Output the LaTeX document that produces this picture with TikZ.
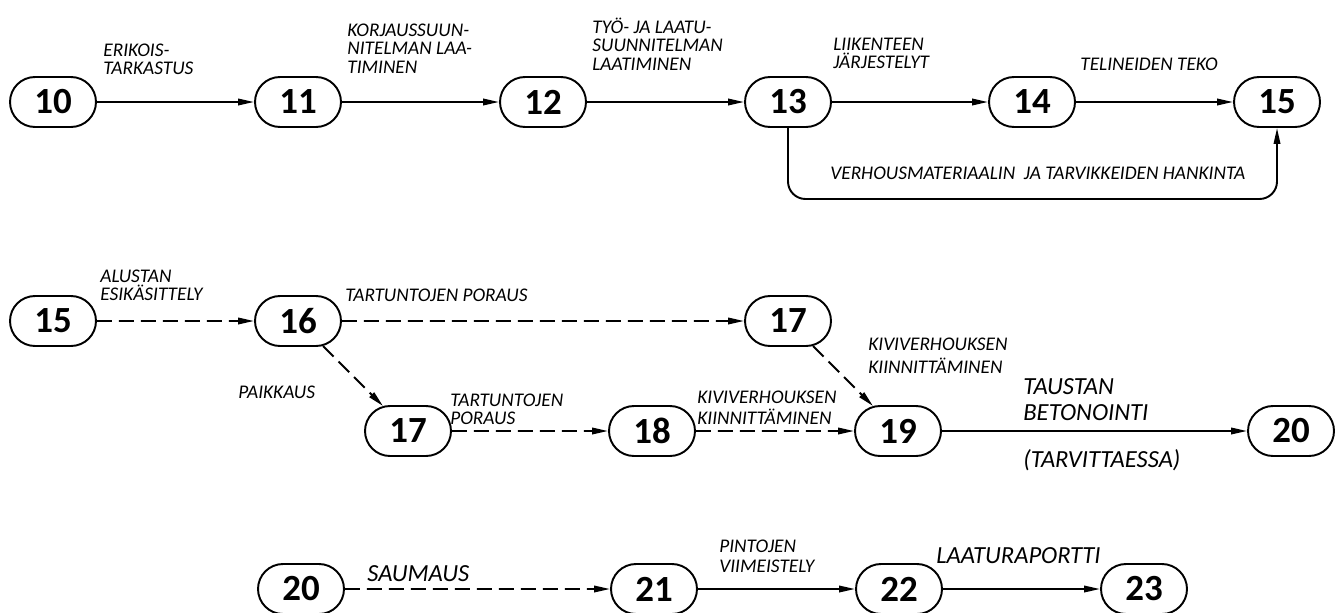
\documentclass[tikz,border=0pt]{standalone}
\usepackage{fontspec}
\setmainfont{Carlito}
\usetikzlibrary{arrows.meta, shapes.misc}

\begin{document}
\begin{tikzpicture}[x=0.02cm, y=-0.02cm,
        vaihe/.style={draw, rounded rectangle, line width=1.1pt, minimum width=1.72cm, minimum height=1cm, inner sep=0pt, font=\fontsize{21}{21}\selectfont\bfseries},
        lbl/.style={anchor=north west, inner sep=0pt, align=left, font=\fontsize{11}{10.3}\selectfont\itshape},
        isolbl/.style={lbl, font=\fontsize{14}{14.7}\selectfont\itshape},
        nuoli/.style={line width=1.1pt, -{Triangle[length=0.32cm, width=0.13cm]}},
        katko/.style={nuoli, dash pattern=on 0.3cm off 0.14cm}]
            \useasboundingbox (0, 0) rectangle (1338, 612);
            %\draw[lightgray] (0, 0) grid (1338, 612);
            % rivi 1
            \node[vaihe] (n10) at (53, 102) {10};
            \node[vaihe] (n11) at (298, 102) {11};
            \node[vaihe] (n12) at (543, 102) {12};
            \node[vaihe] (n13) at (788, 102) {13};
            \node[vaihe] (n14) at (1032, 102) {14};
            \node[vaihe] (n15a) at (1277, 102) {15};
            \draw[nuoli] (n10) -- (n11);
            \draw[nuoli] (n11) -- (n12);
            \draw[nuoli] (n12) -- (n13);
            \draw[nuoli] (n13) -- (n14);
            \draw[nuoli] (n14) -- (n15a);
            \coordinate (hankinta) at (1032, 199);
            \draw[nuoli, rounded corners=0.35cm] (n13) |- (hankinta) -| (n15a);
            \node[lbl] (erikois) at (103, 44) {ERIKOIS-\\TARKASTUS};
            \node[lbl] (korjaus) at (347, 24) {KORJAUSSUUN-\\NITELMAN LAA-\\TIMINEN};
            \node[lbl] (tyo) at (592, 18) {TYÖ- JA LAATU-\\SUUNNITELMAN\\LAATIMINEN};
            \node[lbl] (liikenne) at (833, 38) {LIIKENTEEN\\JÄRJESTELYT};
            \node[lbl] (telineet) at (1080, 58) {TELINEIDEN TEKO};
            \node[lbl] (verhous) at (830, 167) {VERHOUSMATERIAALIN\ \ JA TARVIKKEIDEN HANKINTA};
            % rivit 2 ja 3
            \node[vaihe] (n15b) at (53, 321) {15};
            \node[vaihe] (n16) at (298, 321) {16};
            \node[vaihe] (n17a) at (788, 321) {17};
            \node[vaihe] (n17b) at (408, 431) {17};
            \node[vaihe] (n18) at (652, 431) {18};
            \node[vaihe] (n19) at (898, 431) {19};
            \node[vaihe] (n20a) at (1291, 431) {20};
            \draw[katko] (n15b) -- (n16);
            \draw[katko] (n16) -- (n17a);
            \draw[katko] (n16) -- (n17b);
            \draw[katko] (n17a) -- (n19);
            \draw[katko] (n17b) -- (n18);
            \draw[katko] (n18) -- (n19);
            \draw[nuoli] (n19) -- (n20a);
            \node[lbl] (alusta) at (100, 270) {ALUSTAN\\ESIKÄSITTELY};
            \node[lbl] (poraus1) at (345, 289) {TARTUNTOJEN PORAUS};
            \node[lbl] (paikkaus) at (238, 386) {PAIKKAUS};
            \node[lbl] (poraus2) at (450, 394) {TARTUNTOJEN\\PORAUS};
            \node[lbl] (kivi2) at (697, 391) {KIVIVERHOUKSEN\\[1.5pt]KIINNITTÄMINEN};
            \node[lbl] (kivi1) at (868, 338) {KIVIVERHOUKSEN\\[2.5pt]KIINNITTÄMINEN};
            \node[isolbl] (tausta) at (1023, 378) {TAUSTAN\\BETONOINTI};
            \node[isolbl] (tarv) at (1023, 449) {(TARVITTAESSA)};
            % rivi 4
            \node[vaihe] (n20b) at (301, 589) {20};
            \node[vaihe] (n21) at (654, 589) {21};
            \node[vaihe] (n22) at (899, 589) {22};
            \node[vaihe] (n23) at (1144, 589) {23};
            \draw[katko] (n20b) -- (n21);
            \draw[nuoli] (n21) -- (n22);
            \draw[nuoli] (n22) -- (n23);
            \node[isolbl] (saumaus) at (367, 565) {SAUMAUS};
            \node[lbl] (pinnat) at (719, 540) {PINTOJEN\\[1pt]VIIMEISTELY};
            \node[isolbl] (raportti) at (936, 547) {LAATURAPORTTI};
        \end{tikzpicture}
\end{document}
